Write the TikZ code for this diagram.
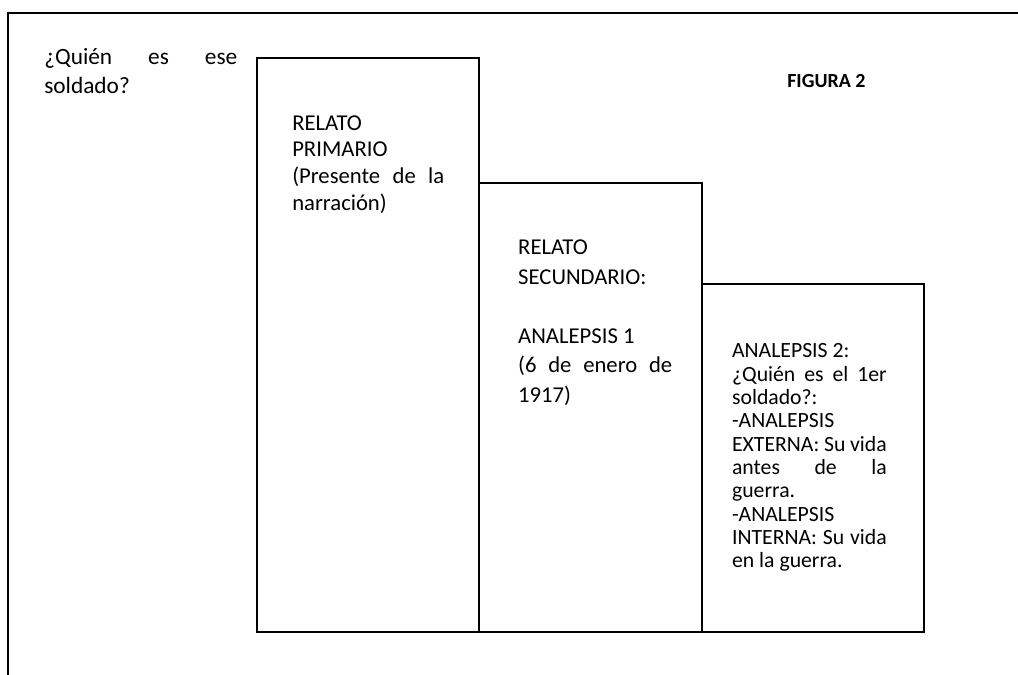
\documentclass[tikz,border=0pt]{standalone}
\usepackage{fontspec}
\setmainfont{Carlito}
\setlength{\parindent}{0pt}

\begin{document}
\begin{tikzpicture}[
    x=0.75pt, y=-0.75pt,
    marco/.style={line width=1.4pt, black},
    caja/.style={
      rectangle, draw=black, line width=1.4pt, inner sep=0pt, outer sep=0pt,
      minimum width=166.8pt
    },
    texto/.style={
      inner sep=0pt, anchor=base west, align=justify, text width=#1
    },
    figlabel/.style={inner sep=0pt, anchor=base west, font=\fontsize{15}{18}\selectfont\bfseries}
  ]

  \useasboundingbox (0,0) rectangle (1018,675);

  % Outer frame (top and left edges only)
  \draw[marco] (1018,13) -- (8,13) -- (8,675);

  % Question and figure label
  \node[texto=144.75pt, font=\fontsize{17.5}{21.75}\selectfont] (pregunta) at (44,64)
    {¿Quién es ese\linebreak soldado?};
  \node[figlabel] (figura) at (787,87) {FIGURA 2};

  % Three stepped boxes
  \node[caja, anchor=north west, minimum height=430pt] (primario) at (257,58.3) {};
  \node[caja, anchor=south west, minimum height=336.75pt] (secundario) at (primario.south east) {};
  \node[caja, anchor=south west, minimum height=260.8pt] (analepsis) at (secundario.south east) {};

  % Box texts
  \node[texto=114pt, font=\fontsize{17}{20}\selectfont, xshift=26.25pt, yshift=-53.8pt]
    (txtprim) at (primario.north west)
    {RELATO\\ PRIMARIO\\ (Presente de la\linebreak narración)};
  \node[texto=115.5pt, font=\fontsize{17}{22.1}\selectfont, xshift=28.9pt, yshift=-54.2pt]
    (txtsec) at (secundario.north west)
    {RELATO\\ SECUNDARIO:\\ \mbox{}\\ ANALEPSIS 1\\ (6 de enero de\linebreak 1917)};
  \node[texto=116pt, font=\fontsize{16.3}{17.5}\selectfont, xshift=22.5pt, yshift=-55.5pt]
    (txtana) at (analepsis.north west)
    {ANALEPSIS 2:\\ ¿Quién es el 1er\linebreak soldado?:\\ -ANALEPSIS\\
     EXTERNA: Su vida\linebreak antes de la\linebreak guerra.\\ -ANALEPSIS\\
     INTERNA: Su vida\linebreak en la guerra.};

\end{tikzpicture}
\end{document}
